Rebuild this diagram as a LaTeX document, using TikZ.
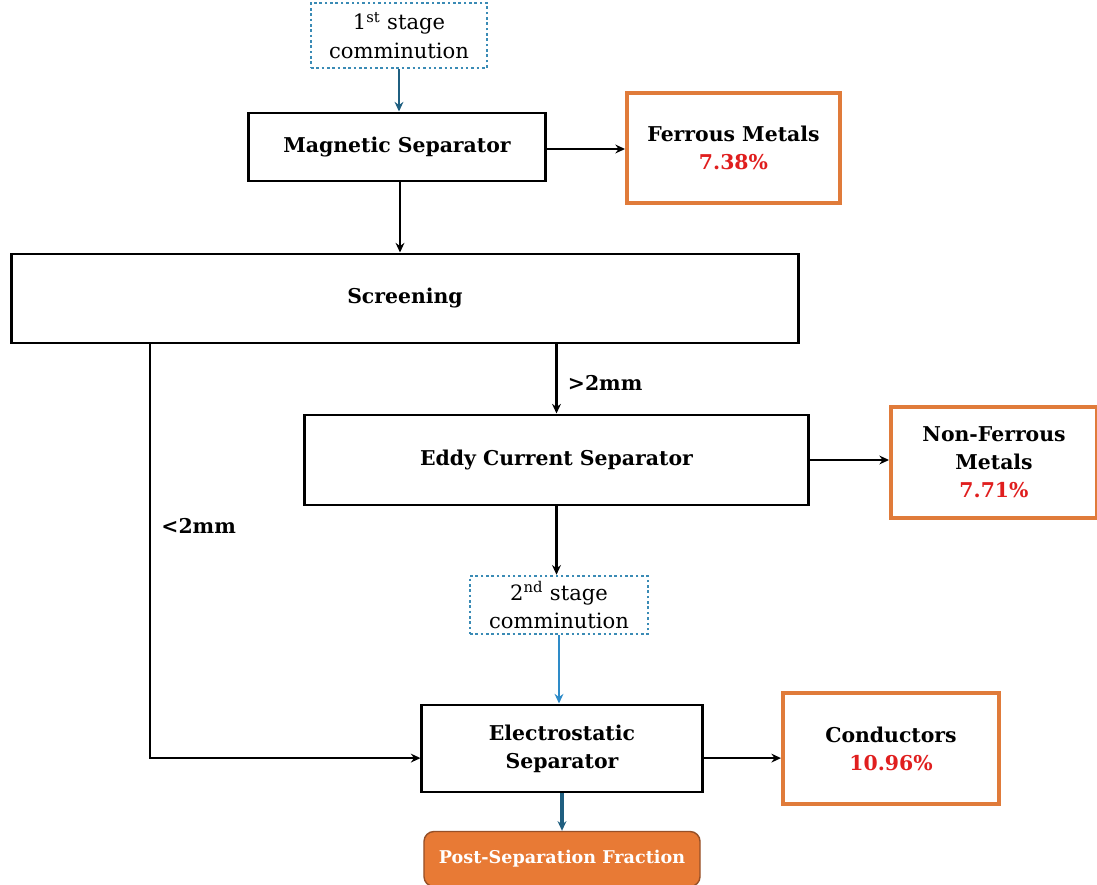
\documentclass[tikz,border=0pt]{standalone}
\usepackage{fontspec}
\setmainfont{DejaVu Serif}
\usepackage{xcolor}
\usetikzlibrary{arrows.meta, positioning, calc}
\definecolor{boxorange}{RGB}{224, 123, 58}
\definecolor{pctred}{RGB}{224, 30, 30}
\definecolor{dotblue}{RGB}{58, 139, 181}
\definecolor{darkteal}{RGB}{31, 95, 128}
\definecolor{lightblue}{RGB}{46, 139, 200}
\definecolor{postfill}{RGB}{232, 122, 53}
\definecolor{postedge}{RGB}{150, 80, 40}

\begin{document}
\begin{tikzpicture}[
    x=0.025cm, y=-0.025cm,
    procnode/.style={rectangle, draw=black, fill=white, line width=2.1pt, inner sep=2pt, align=center, font=\fontsize{14.5}{20}\selectfont\bfseries},
    outnode/.style={rectangle, draw=boxorange, fill=white, line width=2.8pt, inner sep=2pt, align=center, font=\fontsize{14.5}{20}\selectfont\bfseries},
    stagenode/.style={rectangle, draw=dotblue, dotted, line width=1.8pt, inner sep=2pt, align=center, font=\fontsize{15}{20}\selectfont},
    postnode/.style={rectangle, draw=postedge, fill=postfill, rounded corners=2.5mm, line width=1pt, text=white, align=center, font=\fontsize{12.5}{15}\selectfont\bfseries},
    arrow/.style={-{Stealth[length=2.4mm, width=2.2mm]}, line width=1.6pt, draw=black},
    bluearrow/.style={-{Stealth[length=2.4mm, width=2.2mm]}, line width=1.6pt, draw=darkteal},
    sizelabel/.style={right=4pt, font=\fontsize{14.5}{20}\selectfont\bfseries}
]
    \useasboundingbox (0,0) rectangle (1097,885);

    % Nodes
    \node[stagenode, minimum width=4.4cm, minimum height=1.625cm] (stage1) at (399, 35.5) {1\textsuperscript{st} stage\\comminution};
    \node[procnode, minimum width=7.4cm, minimum height=1.7cm] (magnetic) at (397, 147) {Magnetic Separator};
    \node[outnode, minimum width=5.325cm, minimum height=2.75cm] (ferrous) at (733.5, 148) {Ferrous Metals\\{\color{pctred}7.38\%}};
    \node[procnode, minimum width=19.65cm, minimum height=2.225cm] (screening) at (405, 298.5) {Screening};
    \node[procnode, minimum width=12.575cm, minimum height=2.25cm] (eddy) at (556.5, 460) {Eddy Current Separator};
    \node[outnode, minimum width=5.15cm, minimum height=2.775cm] (nonferrous) at (994, 462.5) {Non-Ferrous\\Metals\\{\color{pctred}7.71\%}};
    \node[stagenode, minimum width=4.45cm, minimum height=1.45cm] (stage2) at (559, 605) {2\textsuperscript{nd} stage\\comminution};
    \node[procnode, minimum width=7.0cm, minimum height=2.175cm] (electro) at (562, 748.5) {Electrostatic\\Separator};
    \node[outnode, minimum width=5.4cm, minimum height=2.775cm] (conductors) at (891, 748.5) {Conductors\\{\color{pctred}10.96\%}};
    \node[postnode, minimum width=6.9cm, minimum height=1.375cm] (post) at (562, 859) {Post-Separation Fraction};
    \coordinate (fines) at (150, 343);

    % Edges
    \draw[bluearrow] (stage1) -- (stage1 |- magnetic.north);
    \draw[arrow] ([yshift=-0.05cm]magnetic.east) -- ([yshift=-0.05cm]magnetic.east -| ferrous.west);
    \draw[arrow] (magnetic.south) ++(3,0) coordinate (magout) -- (magout |- screening.north);
    \draw[arrow] (eddy.north |- screening.south) -- node[pos=0.55, sizelabel] {>2mm} (eddy.north);
    \draw[arrow] (eddy.east) -- (eddy.east -| nonferrous.west);
    \draw[arrow] (eddy.south) -- (eddy.south |- stage2.north);
    \draw[bluearrow, draw=lightblue] (stage2) -- (stage2 |- electro.north);
    \draw[arrow] (fines) |- node[pos=0.22, sizelabel] {<2mm} ([yshift=-0.24cm]electro.west);
    \draw[arrow] ([yshift=-0.24cm]electro.east) -- ([yshift=-0.24cm]electro.east -| conductors.west);
    \draw[bluearrow, line width=2.2pt] (electro) -- (post);
\end{tikzpicture}
\end{document}
